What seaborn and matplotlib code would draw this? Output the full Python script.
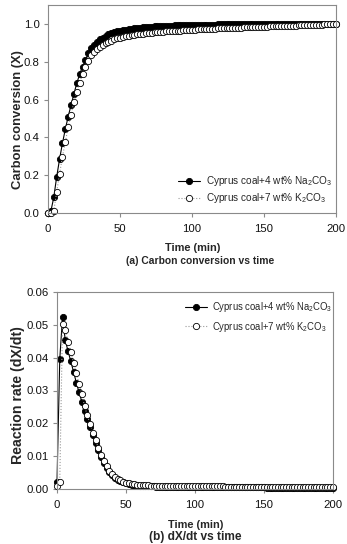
import matplotlib
matplotlib.use("Agg")
import matplotlib.pyplot as plt
import seaborn as sns
import pandas as pd
import numpy as np

# Time axis (min)
time = [0, 2, 4, 6, 8, 10, 12, 14, 16, 18, 20, 22, 24, 26, 28, 30, 32, 34, 36, 38,
        40, 42, 44, 46, 48, 50, 52, 54, 56, 58, 60, 62, 64, 66, 68, 70, 72, 74, 76, 78,
        80, 82, 84, 86, 88, 90, 92, 94, 96, 98, 100, 102, 104, 106, 108, 110, 112, 114, 116, 118,
        120, 122, 124, 126, 128, 130, 132, 134, 136, 138, 140, 142, 144, 146, 148, 150, 152, 154, 156, 158,
        160, 162, 164, 166, 168, 170, 172, 174, 176, 178, 180, 182, 184, 186, 188, 190, 192, 194, 196, 198,
        200]

# Carbon conversion X
conv_na = [0.000, 0.010, 0.082, 0.190, 0.283, 0.368, 0.442, 0.510, 0.570, 0.630,
           0.686, 0.735, 0.774, 0.809, 0.845, 0.870, 0.890, 0.905, 0.918, 0.928,
           0.937, 0.944, 0.950, 0.955, 0.960, 0.964, 0.967, 0.970, 0.973, 0.975,
           0.977, 0.979, 0.981, 0.982, 0.983, 0.985, 0.986, 0.987, 0.988, 0.989,
           0.990, 0.990, 0.991, 0.991, 0.992, 0.992, 0.993, 0.993, 0.993, 0.994,
           0.994, 0.994, 0.995, 0.995, 0.995, 0.996, 0.996, 0.996, 0.996, 0.997,
           0.997, 0.997, 0.997, 0.997, 0.998, 0.998, 0.998, 0.998, 0.998, 0.998,
           0.998, 0.998, 0.998, 0.998, 0.998, 0.999, 0.999, 0.999, 0.999, 0.999,
           0.999, 0.999, 0.999, 0.999, 0.999, 0.999, 0.999, 0.999, 0.999, 0.999,
           0.999, 1.000, 1.000, 1.000, 1.000, 1.000, 1.000, 1.000, 1.000, 1.000,
           1.000]
conv_k = [0.000, 0.000, 0.010, 0.110, 0.205, 0.297, 0.373, 0.456, 0.520, 0.588,
          0.640, 0.690, 0.735, 0.772, 0.806, 0.835, 0.852, 0.866, 0.878, 0.889,
          0.898, 0.906, 0.912, 0.918, 0.923, 0.927, 0.931, 0.934, 0.937, 0.940,
          0.942, 0.944, 0.946, 0.948, 0.950, 0.952, 0.953, 0.955, 0.956, 0.957,
          0.959, 0.960, 0.961, 0.962, 0.963, 0.964, 0.965, 0.966, 0.967, 0.968,
          0.969, 0.970, 0.971, 0.972, 0.972, 0.973, 0.974, 0.975, 0.975, 0.976,
          0.977, 0.977, 0.978, 0.979, 0.979, 0.980, 0.981, 0.981, 0.982, 0.982,
          0.983, 0.984, 0.984, 0.985, 0.985, 0.986, 0.986, 0.987, 0.987, 0.988,
          0.988, 0.989, 0.989, 0.990, 0.990, 0.991, 0.991, 0.992, 0.992, 0.993,
          0.993, 0.994, 0.994, 0.995, 0.996, 0.996, 0.997, 0.998, 0.998, 0.999,
          1.000]

# Reaction rate dX/dt
rate_na = [0.0022, 0.0395, 0.0524, 0.0453, 0.0420, 0.0389, 0.0357, 0.0324, 0.0294, 0.0266,
           0.0238, 0.0212, 0.0188, 0.0163, 0.0140, 0.0118, 0.0098, 0.0080, 0.0064, 0.0052,
           0.0042, 0.0034, 0.0028, 0.0023, 0.0020, 0.0017, 0.0015, 0.0013, 0.0012, 0.0011,
           0.0010, 0.0010, 0.0009, 0.0009, 0.0008, 0.0008, 0.0007, 0.0007, 0.0007, 0.0007,
           0.0007, 0.0007, 0.0007, 0.0007, 0.0007, 0.0007, 0.0006, 0.0006, 0.0006, 0.0006,
           0.0006, 0.0006, 0.0006, 0.0006, 0.0006, 0.0006, 0.0006, 0.0006, 0.0006, 0.0006,
           0.0006, 0.0005, 0.0005, 0.0005, 0.0005, 0.0005, 0.0005, 0.0005, 0.0005, 0.0005,
           0.0005, 0.0005, 0.0005, 0.0005, 0.0005, 0.0005, 0.0004, 0.0004, 0.0004, 0.0004,
           0.0004, 0.0004, 0.0004, 0.0004, 0.0004, 0.0004, 0.0004, 0.0004, 0.0004, 0.0004,
           0.0004, 0.0003, 0.0003, 0.0003, 0.0003, 0.0003, 0.0003, 0.0003, 0.0003, 0.0003,
           0.0003]
rate_k = [0.0010, 0.0022, 0.0504, 0.0484, 0.0448, 0.0416, 0.0385, 0.0352, 0.0319, 0.0289,
          0.0252, 0.0224, 0.0198, 0.0172, 0.0148, 0.0125, 0.0104, 0.0085, 0.0069, 0.0056,
          0.0046, 0.0038, 0.0031, 0.0026, 0.0022, 0.0019, 0.0017, 0.0015, 0.0014, 0.0013,
          0.0012, 0.0012, 0.0011, 0.0011, 0.0010, 0.0010, 0.0009, 0.0009, 0.0009, 0.0009,
          0.0009, 0.0009, 0.0009, 0.0009, 0.0009, 0.0009, 0.0008, 0.0008, 0.0008, 0.0008,
          0.0008, 0.0008, 0.0008, 0.0008, 0.0008, 0.0008, 0.0008, 0.0008, 0.0008, 0.0008,
          0.0008, 0.0007, 0.0007, 0.0007, 0.0007, 0.0007, 0.0007, 0.0007, 0.0007, 0.0007,
          0.0007, 0.0007, 0.0007, 0.0007, 0.0007, 0.0007, 0.0006, 0.0006, 0.0006, 0.0006,
          0.0006, 0.0006, 0.0006, 0.0006, 0.0006, 0.0006, 0.0006, 0.0006, 0.0006, 0.0006,
          0.0006, 0.0005, 0.0005, 0.0005, 0.0005, 0.0005, 0.0005, 0.0005, 0.0005, 0.0005,
          0.0005]

label_na = 'Cyprus coal+4 wt% Na$_2$CO$_3$'
label_k = 'Cyprus coal+7 wt% K$_2$CO$_3$'

sns.set_style('ticks')
plt.rcParams['font.family'] = ['Liberation Sans', 'DejaVu Sans']
plt.rcParams['mathtext.default'] = 'regular'

W, H = 347, 544
fig = plt.figure(figsize=(W / 100, H / 100), dpi=100)

spine_col = '#8a8a8a'


def style_axes(ax):
    for s in ax.spines.values():
        s.set_visible(True)
        s.set_color(spine_col)
        s.set_linewidth(0.8)
    ax.tick_params(direction='out', length=3, width=0.8, color=spine_col,
                   labelsize=8.2, pad=3, labelcolor='#111111')


def draw_series(ax, x, y, solid):
    if solid:
        sns.lineplot(x=x, y=y, ax=ax, errorbar=None, color='black', linewidth=0.8,
                     linestyle='-', marker='o', markersize=4.5, markerfacecolor='black',
                     markeredgecolor='black', markeredgewidth=0.6, clip_on=False)
    else:
        sns.lineplot(x=x, y=y, ax=ax, errorbar=None, color='#9a9a9a', linewidth=0.8,
                     linestyle=':', marker='o', markersize=4.5, markerfacecolor='white',
                     markeredgecolor='black', markeredgewidth=0.6, clip_on=False)


# (a) carbon conversion
ax1 = fig.add_axes([48 / W, 1 - 213 / H, 288 / W, 208 / H])
draw_series(ax1, time, conv_na, True)
draw_series(ax1, time, conv_k, False)
ax1.set_xlim(0, 200)
ax1.set_ylim(0, 1.1)
ax1.set_xticks([0, 50, 100, 150, 200])
ax1.set_yticks([0.0, 0.2, 0.4, 0.6, 0.8, 1.0])
ax1.yaxis.set_major_formatter(matplotlib.ticker.FormatStrFormatter('%.1f'))
style_axes(ax1)
ax1.tick_params(axis='x', pad=5)
ax1.set_xlabel('')
ax1.set_ylabel('')
fig.text(18 / W, 1 - 120 / H, 'Carbon conversion (X)', rotation=90, ha='center', va='center',
         fontsize=9.4, fontweight='bold')
lines = ax1.get_lines()
ax1.legend(lines[:2], [label_na, label_k], loc='upper left',
           bbox_to_anchor=(178 / W, 1 - 174 / H), bbox_transform=fig.transFigure,
           frameon=False, fontsize=7.2, handlelength=2.2, handletextpad=0.55,
           labelspacing=0.3, borderpad=0, borderaxespad=0)
fig.text(193 / W, 1 - 248 / H, 'Time (min)', ha='center', va='center',
         fontsize=7.9, fontweight='bold')
fig.text(200 / W, 1 - 261 / H, '(a) Carbon conversion vs time', ha='center', va='center',
         fontsize=7.4, fontweight='bold')

# (b) reaction rate
ax2 = fig.add_axes([57 / W, 1 - 489 / H, 276 / W, 197 / H])
draw_series(ax2, time, rate_na, True)
draw_series(ax2, time, rate_k, False)
ax2.set_xlim(0, 200)
ax2.set_ylim(0, 0.06)
ax2.set_xticks([0, 50, 100, 150, 200])
ax2.set_yticks([0.0, 0.01, 0.02, 0.03, 0.04, 0.05, 0.06])
ax2.yaxis.set_major_formatter(matplotlib.ticker.FormatStrFormatter('%.2f'))
style_axes(ax2)
ax2.tick_params(axis='x', pad=5)
ax2.set_xlabel('')
ax2.set_ylabel('')
fig.text(18 / W, 1 - 395 / H, 'Reaction rate (dX/dt)', rotation=90, ha='center', va='center',
         fontsize=10.2, fontweight='bold')
lines = ax2.get_lines()
ax2.legend(lines[:2], [label_na, label_k], loc='upper left',
           bbox_to_anchor=(185 / W, 1 - 300 / H), bbox_transform=fig.transFigure,
           frameon=False, fontsize=6.85, handlelength=2.3, handletextpad=0.5,
           labelspacing=0.6, borderpad=0, borderaxespad=0)
fig.text(195.5 / W, 1 - 525 / H, 'Time (min)', ha='center', va='center',
         fontsize=7.9, fontweight='bold')
fig.text(195 / W, 1 - 537 / H, '(b) dX/dt vs time', ha='center', va='center',
         fontsize=8.6, fontweight='bold')

fig.savefig('out.png', dpi=100, facecolor='white')
